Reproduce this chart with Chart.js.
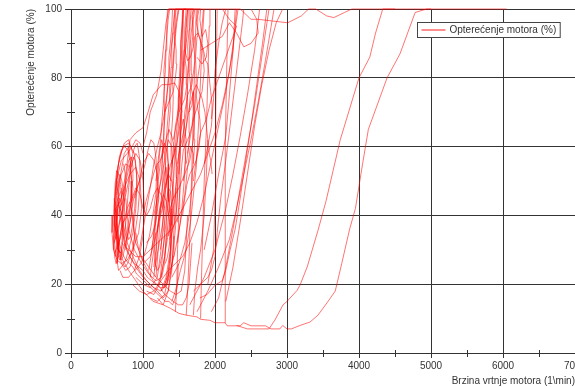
<!DOCTYPE html>
<html>
<head>
<meta charset="utf-8">
<script src="https://cdn.jsdelivr.net/npm/chart.js@4.4.1/dist/chart.umd.min.js"></script>
<style>
  html, body { margin: 0; padding: 0; background: #fff; overflow: hidden; }
  canvas { display: block; }
</style>
</head>
<body>
<canvas id="chart" width="620" height="387"></canvas>
<script>
  // engine load (%) vs engine speed (1/min), one array per recorded run: [rpm, load]
  const run01 = [[620,28],[600,34],[610,42],[650,48],[700,52],[760,55],[820,54],[860,48],[840,40],[780,34],[720,30],[680,27],[640,29],[620,36],[640,44],[690,47]];
  const run02 = [[640,26],[660,32],[640,38],[620,46],[660,55],[720,60],[800,61],[880,58],[920,50],[900,42],[860,35],[800,30],[760,27],[700,25],[660,24],[620,30]];
  const run03 = [[580,40],[570,35],[590,30],[640,27],[700,26],[780,27],[860,30],[940,35],[980,42],[960,50],[900,54],[820,52],[740,48],[680,44],[620,42],[600,38]];
  const run04 = [[600,32],[650,36],[700,40],[750,45],[800,50],[830,56],[800,60],[740,58],[690,52],[660,46],[640,40],[630,34],[650,30],[700,29]];
  const run05 = [[680,24],[720,22],[800,22],[880,24],[950,28],[1000,34],[1020,42],[1000,50],[960,56],[900,58],[840,55],[800,48],[770,40],[740,33]];
  const run06 = [[650,30],[690,35],[730,38],[780,42],[820,44],[860,40],[880,34],[860,28],[820,25],[760,24],[700,26],[660,32],[640,38],[660,44]];
  const run07 = [[640,26],[655,28],[650,33],[610,37],[600,43],[630,50],[700,56],[780,58],[850,60],[900,62],[960,61],[1000,58]];
  const run08 = [[610,29],[640,31],[680,33],[720,36],[700,41],[660,43],[630,47],[640,53],[680,57],[740,61],[800,62],[860,58]];

  const run09 = [[900,22],[1000,20],[1100,19],[1200,22],[1250,30],[1280,40],[1300,50],[1320,58],[1350,62],[1400,60],[1420,52],[1400,44],[1360,36],[1300,28],[1250,22]];
  const run10 = [[1050,18],[1150,17],[1230,20],[1300,28],[1350,38],[1380,48],[1420,58],[1450,66],[1500,72],[1520,80],[1540,90],[1560,100],[1700,100]];
  const run11 = [[1100,22],[1150,30],[1180,40],[1200,50],[1230,58],[1260,62],[1300,58],[1320,50],[1300,42],[1260,36],[1210,30],[1160,24]];
  const run12 = [[950,30],[1000,36],[1050,42],[1100,48],[1150,55],[1200,60],[1250,64],[1300,70],[1350,78],[1380,86],[1420,95],[1450,100],[1800,100]];
  const run13 = [[1200,16],[1280,14],[1350,18],[1400,26],[1450,36],[1480,46],[1500,56],[1520,64],[1560,68],[1600,62],[1580,52],[1540,42],[1480,32]];
  const run14 = [[1300,20],[1380,24],[1450,30],[1520,38],[1580,46],[1620,54],[1660,60],[1700,58],[1680,48],[1640,40],[1580,32],[1500,26],[1400,22]];
  const run15 = [[1000,26],[1100,28],[1180,34],[1250,42],[1300,48],[1350,52],[1400,50],[1430,44],[1400,38],[1350,34]];
  const run16 = [[880,45],[950,50],[1000,55],[1080,58],[1150,56],[1200,52],[1220,45],[1180,38],[1120,34],[1050,32]];
  const run17 = [[1150,40],[1200,45],[1250,50],[1300,56],[1330,64],[1360,72],[1400,80],[1430,88],[1470,96],[1500,100]];
  const run18 = [[1250,18],[1320,22],[1380,30],[1420,40],[1460,50],[1500,58],[1560,64],[1600,70],[1620,78],[1640,86],[1650,95],[1670,100]];
  const run19 = [[1400,15],[1450,18],[1520,24],[1600,30],[1660,38],[1700,46],[1740,54],[1760,62],[1780,70],[1800,80],[1820,90],[1850,100]];
  const run20 = [[1350,40],[1420,45],[1500,48],[1580,52],[1650,56],[1700,62],[1720,70],[1700,76],[1650,72],[1600,66],[1550,60]];
  const run21 = [[700,45],[760,52],[820,62],[900,64],[1000,65.5],[1070,70],[1140,75],[1260,78],[1350,78],[1440,78.5],[1500,76],[1540,70],[1520,62],[1480,55]];
  const run22 = [[1000,60],[1050,64],[1100,70],[1190,75],[1250,82],[1290,90],[1320,96],[1360,100],[1600,100]];

  const run23 = [[1550,60],[1580,70],[1620,75],[1680,78],[1720,85],[1700,92],[1680,98],[1700,100]];
  const run24 = [[1600,55],[1650,62],[1700,68],[1760,72],[1820,76],[1850,82],[1830,88],[1780,92],[1740,96],[1760,100]];
  const run25 = [[1700,50],[1750,58],[1800,64],[1880,68],[1950,74],[2050,80],[2150,86],[2250,92],[2300,95],[2200,97],[2100,100]];
  const run26 = [[1500,70],[1550,80],[1580,90],[1600,96],[1620,100]];
  const run27 = [[1800,88],[1950,90],[2100,92],[2200,96],[2300,93],[2400,89],[2500,90],[2600,93],[2580,97],[2500,100]];
  const run28 = [[1400,55],[1450,60],[1480,68],[1500,78],[1520,86],[1540,94],[1560,100]];
  const run29 = [[1850,55],[1900,60],[1950,66],[1980,74],[2000,82],[2050,90],[2100,96],[2150,100]];
  const run30 = [[1750,86],[1820,84],[1880,86],[1900,90],[1870,94],[1820,92],[1790,97],[1800,100]];

  const run31 = [[1100,16],[1200,15],[1300,17],[1350,22],[1380,30],[1370,38],[1330,44],[1280,46],[1230,42],[1200,35],[1180,28],[1150,22]];
  const run32 = [[800,40],[850,45],[900,48],[960,46],[1000,42],[1050,40],[1100,42],[1150,46],[1200,48],[1250,46],[1300,42]];
  const run33 = [[850,20],[950,18],[1050,17],[1150,18],[1250,21],[1350,24],[1450,26],[1550,28],[1650,32],[1750,38],[1850,46],[1950,56],[2050,66],[2150,76],[2250,88],[2300,100]];
  const run34 = [[700,32],[800,30],[900,28],[1000,28],[1100,30],[1200,32],[1300,34],[1400,36],[1500,40],[1600,44],[1700,48],[1800,52],[1900,58],[2000,64],[2100,72],[2200,82],[2280,94],[2320,100]];

  const run35 = [[650,50],[680,40],[740,32],[820,28],[900,25],[1000,22],[1100,20],[1200,18],[1280,16],[1350,18],[1400,24],[1420,32],[1440,40],[1460,48]];
  const run36 = [[700,48],[720,38],[780,32],[860,28],[950,24],[1050,21],[1150,19],[1250,18],[1330,20],[1380,26],[1400,34],[1410,44],[1430,52],[1450,60]];
  const run37 = [[760,45],[800,36],[880,30],[980,26],[1080,23],[1180,21],[1260,22],[1300,26],[1320,34],[1330,42],[1350,50]];
  const run38 = [[850,40],[900,32],[980,28],[1080,25],[1180,22],[1280,20],[1380,18],[1460,17],[1530,18],[1580,24],[1600,32],[1620,40]];

  const run39 = [[1450,12],[1470,20],[1480,30],[1500,42],[1510,55],[1530,70],[1550,85],[1560,100]];
  const run40 = [[1600,11],[1620,18],[1640,28],[1660,40],[1680,55],[1700,70],[1720,85],[1740,100]];
  const run41 = [[1800,10],[1810,20],[1830,35],[1850,50],[1880,65],[1900,80],[1920,95],[1930,100]];
  const run42 = [[1700,11],[1720,18],[1760,25],[1800,30],[1850,40],[1880,52],[1900,62]];

  const run43 = [[1790,16],[1890,17],[2000,19.7],[2100,21],[2150,24],[2210,30],[2280,36],[2350,45],[2420,55],[2500,66],[2580,78],[2660,90],[2720,100]];
  const run44 = [[1700,18],[1800,20],[1900,22],[1950,24],[2000,28],[2030,35],[2080,45],[2150,56],[2220,68],[2300,82],[2380,96],[2400,100]];
  const run45 = [[2150,15],[2250,25],[2350,38],[2450,52],[2550,66],[2650,78],[2750,88],[2850,96],[2940,100]];
  const run46 = [[1750,12],[1900,18],[2050,25],[2200,33],[2300,42],[2400,52],[2500,62],[2600,73],[2700,85],[2780,95],[2820,100]];
  const run47 = [[1650,14],[1850,22],[2000,30],[2150,42],[2250,52],[2350,63],[2450,75],[2550,88],[2620,100]];
  const run48 = [[1950,12],[2050,16],[2150,25],[2250,36],[2350,48],[2450,60],[2550,72],[2650,86],[2750,100]];
  const run49 = [[1850,30],[1950,40],[2050,52],[2150,63],[2200,75],[2250,88],[2280,100]];
  const run50 = [[1900,20],[1980,30],[2000,45],[2010,70],[2030,100]];

  // lower envelope running out along the floor, then the two wide runs on the right
  const run51 = [[600,45],[620,36],[660,30],[720,27],[800,24],[900,21],[1000,18],[1140,15],[1280,14],[1380,13],[1500,11.5],[1600,11],[1750,10.5],[1800,9.8],[1930,9.5],[2000,8.8],[2140,8.8],[2140,30],[2145,60],[2160,80],[2180,100]];
  const run52 = [[2140,8.8],[2170,7.9],[2350,7.9],[2400,8.8],[2500,7.9],[2700,7.9],[2780,7],[2900,7],[2940,8],[3000,7],[3060,7],[3180,8],[3320,9],[3430,11],[3570,15],[3670,18],[3760,26],[3870,36],[3950,42],[4050,55],[4130,65],[4390,80],[4570,87],[4780,99],[4940,100],[6050,100]];
  const run53 = [[2300,8],[2450,7],[2650,7],[2750,7],[2833,9.6],[2945,14],[3000,15],[3140,18.2],[3180,19.7],[3280,25],[3430,35.6],[3540,44],[3640,53],[3740,62],[4000,80],[4150,86],[4230,93],[4330,100],[4500,100]];
  const run54 = [[1350,100],[2350,100],[2500,97],[2600,97],[2800,96.5],[3010,96],[3200,98],[3300,100],[3400,100],[3550,98],[3650,97.5],[3800,99],[3900,100],[5000,100]];

  // dense idle/low-speed loops
  const run55 = [[590,30],[600,36],[596,41],[612,47],[640,52],[672,57],[700,59],[745,60],[790,59],[826,55],[840,50],[836,44],[812,40],[790,37],[770,33],[742,30],[720,28],[694,27],[660,29],[640,33],[630,38],[648,42],[676,45],[704,43]];
  const run56 = [[620,33],[608,38],[620,44],[612,49],[634,53],[660,52],[690,49],[700,45],[684,41],[668,37],[650,34],[660,30],[690,29],[716,32],[730,36],[722,40],[740,44],[760,48],[752,52],[730,55]];
  const run57 = [[700,28],[712,34],[706,40],[730,46],[764,50],[806,54],[850,57],[884,60],[920,61],[950,57],[960,52],[948,46],[930,41],[904,37],[880,33],[850,30],[820,28],[786,26],[750,25],[720,26]];
  const run58 = [[600,38],[590,33],[606,28],[626,26],[650,28],[672,32],[694,36],[720,38],[760,39],[800,41],[830,45],[856,50],[860,54],[840,57],[800,56],[770,52],[748,47],[720,44],[690,43],[660,40]];
  const run59 = [[640,46],[656,50],[680,52],[706,50],[726,47],[740,43],[752,38],[770,35],[800,33],[830,34],[860,38],[884,42],[904,47],[910,52],[894,56],[866,57],[840,54]];
  const run60 = [[760,30],[790,34],[820,38],[846,42],[880,46],[916,48],[950,50],[990,52],[1030,55],[1070,59],[1110,62],[1150,61],[1180,57],[1190,52],[1176,46],[1150,42],[1120,38],[1090,34],[1050,31],[1010,28],[970,26],[930,25],[890,24]];
  const run61 = [[1080,24],[1110,28],[1140,33],[1160,38],[1190,44],[1210,50],[1240,55],[1270,59],[1300,61],[1330,59],[1350,55],[1360,49],[1350,44],[1330,40],[1310,36],[1290,32],[1260,28],[1230,25],[1200,24],[1170,26],[1160,30],[1175,35]];
  const run62 = [[1180,22],[1200,27],[1220,33],[1232,38],[1250,44],[1270,48],[1296,52],[1320,54],[1344,50],[1360,45],[1376,40],[1390,34],[1380,28],[1350,24],[1320,21],[1290,19],[1260,20]];
  const run63 = [[1000,40],[1040,44],[1080,47],[1120,50],[1160,53],[1200,55],[1240,56],[1280,58],[1320,62],[1360,65],[1400,63],[1440,59],[1470,54],[1480,48],[1466,42],[1440,38],[1400,35],[1370,33]];
  const run64 = [[1120,30],[1150,34],[1176,39],[1200,43],[1222,47],[1250,51],[1264,56],[1280,60],[1290,65],[1310,70],[1330,74],[1350,80],[1360,86],[1380,90],[1400,95],[1410,100]];
  const run65 = [[1200,35],[1230,39],[1270,42],[1300,46],[1330,50],[1360,53],[1400,56],[1440,58],[1480,62],[1510,66],[1530,71],[1550,76],[1570,82],[1590,88],[1600,94],[1620,100]];
  const run66 = [[1480,38],[1500,44],[1520,49],[1540,55],[1560,59],[1600,61],[1640,63],[1680,66],[1700,70],[1690,75],[1660,78],[1640,82],[1650,88],[1670,93],[1690,97],[1700,100]];
  const run67 = [[1550,40],[1580,45],[1610,49],[1650,52],[1700,54],[1740,56],[1780,60],[1800,64],[1790,68],[1760,71],[1740,75],[1760,80],[1790,84],[1800,90],[1820,95],[1840,100]];
  const run68 = [[1300,70],[1340,72],[1380,74],[1420,76],[1450,80],[1470,84],[1460,88],[1440,92],[1460,96],[1490,100]];
  const run69 = [[1580,88],[1620,85],[1660,86],[1700,89],[1720,92],[1760,93],[1800,91],[1840,88],[1870,85],[1900,84],[1920,80],[1940,76],[1960,72],[1950,68]];
  const run70 = [[1640,70],[1680,72],[1700,76],[1740,78],[1780,76],[1820,74],[1860,70],[1880,66],[1900,62],[1920,58],[1940,56],[1960,52]];
  const run71 = [[620,42],[640,36],[670,32],[710,29],[760,27],[810,26],[860,25],[910,23],[960,22],[1010,21],[1060,20],[1110,19],[1160,18],[1210,17],[1260,16],[1310,15],[1360,15],[1410,14],[1450,16],[1480,20],[1490,26]];
  const run72 = [[700,40],[730,34],[770,30],[820,28],[880,26],[940,25],[1000,24],[1060,22],[1120,21],[1180,20],[1240,19],[1300,19],[1350,21],[1390,24],[1420,28],[1430,34]];
  const run73 = [[900,35],[940,30],[990,27],[1040,25],[1090,23],[1140,21],[1190,20],[1240,19],[1300,17],[1360,16],[1420,15],[1490,14],[1550,14],[1600,16],[1640,20],[1660,26],[1680,32]];
  const run74 = [[1260,46],[1280,52],[1270,58],[1290,64],[1300,70],[1290,76],[1310,82],[1320,88],[1330,94],[1340,100]];
  const run75 = [[1380,50],[1400,56],[1390,62],[1410,68],[1420,74],[1410,80],[1430,86],[1440,92],[1450,98],[1460,100]];
  const run76 = [[1500,52],[1520,58],[1510,64],[1530,70],[1540,76],[1560,82],[1570,88],[1580,94],[1600,100]];
  const run77 = [[1700,55],[1720,62],[1710,68],[1730,74],[1740,80],[1730,86],[1750,92],[1760,98],[1780,100]];

  // extra climbs in the 1300-1800 column
  const run78 = [[1320,48],[1350,55],[1340,60],[1360,66],[1380,71],[1370,77],[1390,83],[1400,89],[1420,93],[1430,97],[1440,100]];
  const run79 = [[1450,45],[1470,51],[1460,57],[1480,63],[1500,68],[1490,74],[1520,79],[1530,85],[1520,90],[1540,95],[1550,100]];
  const run80 = [[1560,50],[1590,56],[1580,62],[1610,67],[1620,73],[1610,79],[1630,84],[1620,89],[1640,94],[1650,100]];
  const run81 = [[1620,58],[1650,64],[1640,70],[1660,76],[1680,81],[1670,87],[1690,92],[1700,97],[1720,100]];
  const run82 = [[1180,50],[1210,56],[1240,61],[1260,67],[1280,72],[1300,77],[1290,82],[1310,87],[1330,92],[1350,97],[1370,100]];
  const run83 = [[1420,62],[1460,66],[1500,70],[1540,72],[1580,74],[1610,78],[1600,83],[1580,86],[1600,90],[1620,94],[1630,100]];
  const run84 = [[1150,25],[1180,30],[1200,36],[1230,41],[1260,44],[1290,40],[1300,35],[1280,30],[1260,26],[1240,22],[1210,20]];
  const run85 = [[1240,30],[1270,34],[1300,38],[1330,44],[1350,48],[1380,47],[1400,42],[1390,37],[1370,32],[1340,28],[1310,26]];

  const runs = [
    run01, run02, run03, run04, run05, run06, run07, run08, run09, run10,
    run11, run12, run13, run14, run15, run16, run17, run18, run19, run20,
    run21, run22, run23, run24, run25, run26, run27, run28, run29, run30,
    run31, run32, run33, run34, run35, run36, run37, run38, run39, run40,
    run41, run42, run43, run44, run45, run46, run47, run48, run49, run50,
    run51, run52, run53, run54, run55, run56, run57, run58, run59, run60,
    run61, run62, run63, run64, run65, run66, run67, run68, run69, run70,
    run71, run72, run73, run74, run75, run76, run77, run78, run79, run80,
    run81, run82, run83, run84, run85,
  ];

  const xMinor = [500, 1500, 2500, 3500, 4500, 5500, 6500];
  const yMinor = [10, 30, 50, 70, 90];
  const seriesLabel = "Opterećenje motora (%)";
  const xTitle = "Brzina vrtnje motora (1\\min)";
  const yTitle = "Opterećenje motora (%)";

  const AXIS = "#333";
  const LINE = "rgba(255, 0, 0, 0.55)";
  const FONT = { family: "'Liberation Sans', Arial, sans-serif", size: 10 };

  // minor tick marks crossing the axes + the boxed legend inside the plot
  const extras = {
    id: "extras",
    afterDraw(chart) {
      const { ctx, scales: { x, y } } = chart;
      ctx.save();
      ctx.strokeStyle = AXIS;
      ctx.lineWidth = 1;
      ctx.beginPath();
      xMinor.forEach((v) => {
        const px = Math.round(x.getPixelForValue(v)) + 0.5;
        ctx.moveTo(px, y.bottom - 3);
        ctx.lineTo(px, y.bottom + 4);
      });
      yMinor.forEach((v) => {
        const py = Math.round(y.getPixelForValue(v)) + 0.5;
        ctx.moveTo(x.left - 4, py);
        ctx.lineTo(x.left + 4, py);
      });
      ctx.stroke();

      ctx.font = `${FONT.size}px ${FONT.family}`;
      const textW = ctx.measureText(seriesLabel).width;
      const bx = 417.5, by = 22.5, bh = 15;
      const bw = 32 + textW + 4;
      ctx.fillStyle = "#fff";
      ctx.fillRect(bx, by, bw, bh);
      ctx.strokeStyle = "#444";
      ctx.strokeRect(bx, by, bw, bh);
      ctx.strokeStyle = "rgba(255, 0, 0, 0.6)";
      ctx.lineWidth = 1.5;
      ctx.beginPath();
      ctx.moveTo(bx + 4, by + 7.5);
      ctx.lineTo(bx + 28, by + 7.5);
      ctx.stroke();
      ctx.fillStyle = AXIS;
      ctx.textBaseline = "middle";
      ctx.fillText(seriesLabel, bx + 32, by + 8);
      ctx.restore();
    },
  };

  new Chart(document.getElementById("chart"), {
    type: "line",
    data: {
      datasets: runs.map((run) => ({
        label: seriesLabel,
        data: run.map(([rpm, load]) => ({ x: rpm, y: load })),
        borderColor: LINE,
        borderWidth: 1,
        pointRadius: 0,
        tension: 0,
        fill: false,
        clip: 3,
      })),
    },
    options: {
      responsive: false,
      animation: false,
      layout: { padding: { top: 8, right: 45, left: 0, bottom: 0 } },
      plugins: {
        legend: { display: false },
        tooltip: { enabled: false },
      },
      scales: {
        x: {
          type: "linear",
          min: 0,
          max: 7000,
          afterFit: (s) => { s.height = 34; },
          ticks: {
            stepSize: 1000,
            autoSkip: false,
            maxRotation: 0,
            padding: 2,
            color: AXIS,
            font: FONT,
            callback: (v) => String(v),
          },
          grid: {
            color: (c) => (c.tick && c.tick.value === 7000 ? "rgba(0,0,0,0)" : AXIS),
            tickColor: AXIS,
            tickLength: 5,
          },
          border: { color: AXIS },
          title: { display: true, text: xTitle, align: "end", color: AXIS, font: FONT, padding: 0 },
        },
        y: {
          min: 0,
          max: 100,
          afterFit: (s) => { s.width = 71; },
          ticks: { stepSize: 20, padding: 3, color: AXIS, font: FONT },
          grid: { color: AXIS, tickColor: AXIS, tickLength: 6 },
          border: { color: AXIS },
          title: { display: true, text: yTitle, align: "end", color: AXIS, font: FONT, padding: { top: 25, bottom: 0 } },
        },
      },
    },
    plugins: [extras],
  });
</script>
</body>
</html>
